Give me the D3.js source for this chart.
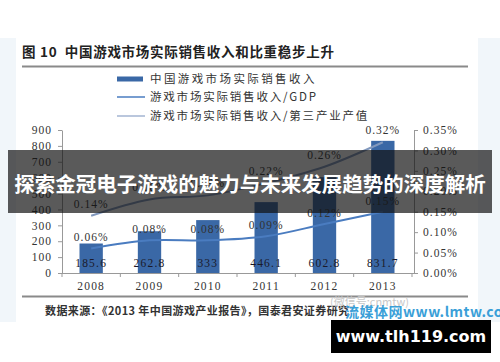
<!DOCTYPE html>
<html><head><meta charset="utf-8">
<script src="https://cdn.jsdelivr.net/npm/d3@7"></script>
<style>body{margin:0;background:#fff;}svg{display:block;}</style>
</head><body>
<script>
const years = ["2008","2009","2010","2011","2012","2013"];
const revenue = [185.6, 262.8, 333, 446.1, 602.8, 831.7];
const revenueLabels = ["185.6","262.8","333","446.1","602.8","831.7"];
const gdpShare = [0.06, 0.08, 0.08, 0.09, 0.12, 0.15];
const tertiaryShare = [0.14, 0.18, 0.19, 0.22, 0.26, 0.32];
const leftTicks = [0,100,200,300,400,500,600,700,800,900];
const rightTicks = [0,0.05,0.10,0.15,0.20,0.25,0.30,0.35];
const legendLabels = ["中国游戏市场实际销售收入","游戏市场实际销售收入/GDP","游戏市场实际销售收入/第三产业产值"];
const titleText = "图 10  中国游戏市场实际销售收入和比重稳步上升";
const sourceText = "数据来源：《2013 年中国游戏产业报告》，国泰君安证券研究";
const bannerText = "探索金冠电子游戏的魅力与未来发展趋势的深度解析";
const siteText = "www.tlh119.com";

const W=500,H=362;
const svg=d3.select("body").append("svg").attr("width",W).attr("height",H);
const serif="'Liberation Serif','DejaVu Serif',serif";
const cjk="'Noto Sans CJK SC','Noto Sans',sans-serif";

// light frame areas
svg.append("rect").attr("x",0).attr("y",38).attr("width",16).attr("height",284).attr("fill","#f1f6fa");
svg.append("rect").attr("x",478).attr("y",38).attr("width",22).attr("height",284).attr("fill","#f1f6fa");

// title
svg.append("text").attr("x",22).attr("y",57).attr("font-family",cjk).attr("font-weight","bold")
  .attr("font-size",13.5).attr("letter-spacing",0.7).attr("fill","#222").attr("xml:space","preserve").text(titleText);
svg.append("line").attr("x1",22).attr("x2",468).attr("y1",66.5).attr("y2",66.5).attr("stroke","#8a8a8a").attr("stroke-width",2);

// legend
const barColor="#3a68a6", gdpColor="#4a7cc0", terColor="#8198bd";
const lg=svg.append("g");
lg.append("rect").attr("x",117).attr("y",76.5).attr("width",26).attr("height",5).attr("fill",barColor);
lg.append("line").attr("x1",117).attr("x2",145).attr("y1",97).attr("y2",97).attr("stroke",gdpColor).attr("stroke-width",1.5);
lg.append("line").attr("x1",117).attr("x2",145).attr("y1",116).attr("y2",116).attr("stroke","#a3b5d2").attr("stroke-width",1.5);
[79,97,116].forEach((y,i)=>{
  lg.append("text").attr("x",150).attr("y",y+4).attr("font-family",cjk).attr("font-size",11.5)
    .attr("letter-spacing",i===0?2.4:1.8).attr("fill","#333").text(legendLabels[i]);
});

// scales
const x=d3.scaleBand().domain(years).range([62,412]).paddingInner(0.6).paddingOuter(0.3);
const xb=d3.scaleBand().domain(years).range([62,412]);
const yL=d3.scaleLinear().domain([0,900]).range([273,130]);
const yR=d3.scaleLinear().domain([0,0.35]).range([273,130]);

// axes
const axL=svg.append("g").attr("transform","translate(62,0)").call(d3.axisLeft(yL).tickValues(leftTicks).tickSize(4).tickSizeOuter(0));
const axR=svg.append("g").attr("transform","translate(414,0)").call(d3.axisRight(yR).tickValues(rightTicks).tickSize(4).tickSizeOuter(0).tickFormat(d=>d3.format(".2f")(d)+"%"));
[axL,axR].forEach(a=>{
  a.select(".domain").attr("stroke","#999");
  a.selectAll(".tick line").attr("stroke","#999");
  a.selectAll("text").attr("font-family",serif).attr("font-size",11.5).attr("letter-spacing",1).attr("fill","#333");
});
axL.selectAll("text").attr("x",-10);
axR.selectAll("text").attr("x",9);

// x axis
svg.append("line").attr("x1",62).attr("x2",414).attr("y1",273.5).attr("y2",273.5).attr("stroke","#999");
const edges=years.map(d=>xb(d)).concat([412]);
svg.selectAll(".xt").data(edges).enter().append("line").attr("x1",d=>d).attr("x2",d=>d).attr("y1",273).attr("y2",277).attr("stroke","#999");
svg.selectAll(".xl").data(years).enter().append("text").attr("x",d=>xb(d)+xb.bandwidth()/2).attr("y",290)
  .attr("text-anchor","middle").attr("font-family",serif).attr("font-size",11.5).attr("letter-spacing",1.2).attr("fill","#333").text(d=>d);

// bars
svg.selectAll(".bar").data(years).enter().append("rect").attr("x",d=>x(d)).attr("width",x.bandwidth())
  .attr("y",(d,i)=>yL(revenue[i])).attr("height",(d,i)=>273-yL(revenue[i])).attr("fill",barColor);
svg.selectAll(".bl").data(years).enter().append("text").attr("x",d=>xb(d)+xb.bandwidth()/2).attr("y",267)
  .attr("text-anchor","middle").attr("font-family",serif).attr("font-size",11.5).attr("letter-spacing",1.2).attr("fill","#1a1a2a")
  .text((d,i)=>revenueLabels[i]);

// lines
const cx=d=>xb(d)+xb.bandwidth()/2;
const line=(arr)=>d3.line().x((d,i)=>cx(years[i])).y(d=>yR(d)).curve(d3.curveCatmullRom.alpha(0.5))(arr);
svg.append("path").attr("d",line(tertiaryShare)).attr("fill","none").attr("stroke",terColor).attr("stroke-width",2);
svg.append("path").attr("d",line(gdpShare)).attr("fill","none").attr("stroke",gdpColor).attr("stroke-width",2);
const fmt=d=>d3.format(".2f")(d)+"%";
svg.selectAll(".tl").data(tertiaryShare).enter().append("text").attr("x",(d,i)=>cx(years[i])).attr("y",d=>yR(d)-8)
  .attr("text-anchor","middle").attr("font-family",serif).attr("font-size",11.5).attr("letter-spacing",1).attr("fill","#333").text(fmt);
svg.selectAll(".gl").data(gdpShare).enter().append("text").attr("x",(d,i)=>cx(years[i])).attr("y",d=>yR(d)-7)
  .attr("text-anchor","middle").attr("font-family",serif).attr("font-size",11.5).attr("letter-spacing",1).attr("fill","#333").text(fmt);

// bottom rule and source
svg.append("line").attr("x1",22).attr("x2",468).attr("y1",296.5).attr("y2",296.5).attr("stroke","#8a8a8a").attr("stroke-width",2);
svg.append("text").attr("x",45).attr("y",315).attr("font-family",cjk).attr("font-weight","bold").attr("font-size",11)
  .attr("letter-spacing",0.4).attr("fill","#333").text(sourceText);
svg.append("text").attr("x",330).attr("y",306).attr("font-family",cjk).attr("font-size",11).attr("fill","#c8c8c8").text("(微信号:cnmtw)");
svg.append("text").attr("x",345).attr("y",317).attr("font-family",cjk).attr("font-weight","bold").attr("font-size",14)
  .attr("letter-spacing",0.5).attr("fill","#3a9fd8").text("流媒体网www.lmtw.com");

// banner overlay
svg.append("rect").attr("x",8).attr("y",150).attr("width",484).attr("height",63).attr("fill","rgb(16,16,16)").attr("fill-opacity",0.69);
svg.append("text").attr("x",250).attr("y",192).attr("text-anchor","middle").attr("font-family",cjk).attr("font-weight","bold")
  .attr("font-size",20.5).attr("fill","#fff").text(bannerText);

// site box
svg.append("rect").attr("x",331).attr("y",320).attr("width",160).attr("height",33).attr("fill","#000");
svg.append("text").attr("x",411).attr("y",342).attr("text-anchor","middle").attr("font-family","'DejaVu Sans',Verdana,sans-serif")
  .attr("font-weight","bold").attr("font-size",16).attr("fill","#fff").text(siteText);
</script>
</body></html>
